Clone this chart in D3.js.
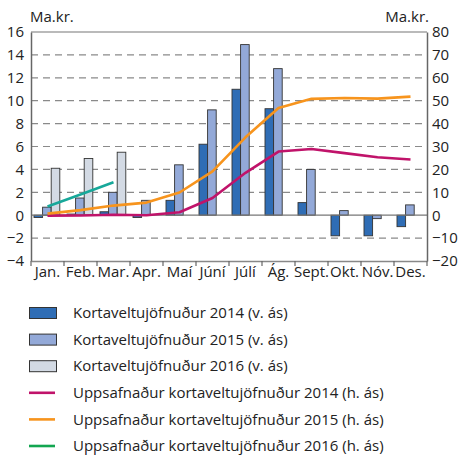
<!DOCTYPE html>
<html><head><meta charset="utf-8">
<script src="https://cdn.jsdelivr.net/npm/d3@7"></script>
<style>body{margin:0;background:#fff}svg{display:block}text{font-family:"Open Sans",sans-serif;fill:#222}</style>
</head><body><svg id="c" width="458" height="455"></svg>
<script>
const months = ["Jan.","Feb.","Mar.","Apr.","Maí","Júní","Júlí","Ág.","Sept.","Okt.","Nóv.","Des."];
const bars2014 = [-0.2,0.1,0.3,-0.2,1.3,6.2,11.0,9.3,1.1,-1.8,-1.8,-1.0];
const bars2015 = [0.7,1.5,2.0,1.3,4.4,9.2,14.9,12.8,4.0,0.4,-0.3,0.9];
const bars2016 = [4.1,4.95,5.5];
const cum2014 = [-0.2,-0.1,0.2,0.0,1.3,7.5,18.5,27.8,28.9,27.1,25.3,24.3];
const cum2015 = [0.7,2.2,4.2,5.5,9.9,19.1,34.0,46.8,50.8,51.2,50.9,51.8];
const cum2016 = [3.8,9.0,14.4];
const leftTicks = [-4,-2,0,2,4,6,8,10,12,14,16];
const rightTicks = [-20,-10,0,10,20,30,40,50,60,70,80];
const legendLabels = ["Kortaveltujöfnuður 2014 (v. ás)","Kortaveltujöfnuður 2015 (v. ás)","Kortaveltujöfnuður 2016 (v. ás)","Uppsafnaður kortaveltujöfnuður 2014 (h. ás)","Uppsafnaður kortaveltujöfnuður 2015 (h. ás)","Uppsafnaður kortaveltujöfnuður 2016 (h. ás)"];

const svg = d3.select("#c");
const L=31, R=427, T=32, B=261;
const x = d3.scaleBand().domain(months).range([L,R]);
const yL = d3.scaleLinear().domain([-4,16]).range([B,T]);
const yR = d3.scaleLinear().domain([-20,80]).range([B,T]);
const col = {b14:"#2f6db5",b15:"#93a9d8",b16:"#d3dae4",l14:"#c0136a",l15:"#f7941d",l16:"#17a89a",g16:"#12a650"};

// grid
svg.append("g").selectAll("line").data(leftTicks.filter(d=>d!==-4&&d!==16&&d!==0)).join("line")
  .attr("x1",L).attr("x2",R).attr("y1",d=>yL(d)).attr("y2",d=>yL(d))
  .attr("stroke","#8a8a8a").attr("stroke-width",1.2).attr("stroke-dasharray","7,5");
// top border
svg.append("line").attr("x1",L).attr("x2",R).attr("y1",T).attr("y2",T).attr("stroke","#777").attr("stroke-width",1.2);

const bw = 8.6, off = 3;
const sub = [["b14",bars2014,0],["b15",bars2015,1],["b16",bars2016,2]];
sub.forEach(([k,arr,i])=>{
  svg.append("g").selectAll("rect").data(arr).join("rect")
    .attr("x",(d,j)=>x(months[j])+off+i*bw)
    .attr("y",d=>yL(Math.max(0,d)))
    .attr("width",bw)
    .attr("height",d=>Math.abs(yL(d)-yL(0)))
    .attr("fill",col[k]).attr("stroke","#333").attr("stroke-width",0.9);
});
// zero line
svg.append("line").attr("x1",L).attr("x2",R).attr("y1",yL(0)).attr("y2",yL(0)).attr("stroke","#777").attr("stroke-width",1.3);

const line = d3.line().x((d,j)=>x(months[j])+x.bandwidth()/2).y(d=>yR(d));
[[cum2014,col.l14],[cum2015,col.l15],[cum2016,col.l16]].forEach(([arr,c])=>{
  svg.append("path").datum(arr).attr("d",line).attr("fill","none").attr("stroke",c).attr("stroke-width",2.6).attr("stroke-linejoin","round");
});

// axes
const ax = svg.append("g").attr("transform",`translate(${L},0)`).call(d3.axisLeft(yL).tickValues(leftTicks).tickSize(0).tickPadding(7));
const ar = svg.append("g").attr("transform",`translate(${R},0)`).call(d3.axisRight(yR).tickValues(rightTicks).tickSize(0).tickPadding(5));
const ab = svg.append("g").attr("transform",`translate(0,${B})`).call(d3.axisBottom(x).tickSize(0).tickPadding(5));
[ax,ar,ab].forEach(g=>{g.select(".domain").attr("stroke","#666").attr("stroke-width",1.5);g.selectAll("text").attr("font-size",15).attr("fill","#222").attr("font-family","Open Sans, sans-serif");});
ab.select(".domain").attr("stroke","#888");
ab.selectAll("text").attr("dy","0.75em");
// bottom ticks at band boundaries
svg.append("g").selectAll("line").data(months.slice(1).concat(["end"])).join("line")
  .attr("x1",d=>d==="end"?R:x(d)).attr("x2",d=>d==="end"?R:x(d)).attr("y1",B).attr("y2",B+5)
  .attr("stroke","#666").attr("stroke-width",1.2);
svg.append("line").attr("x1",L).attr("x2",L).attr("y1",B).attr("y2",B+5).attr("stroke","#666").attr("stroke-width",1.2);

svg.append("text").attr("x",30).attr("y",22).attr("font-size",15).text("Ma.kr.");
svg.append("text").attr("x",429).attr("y",22).attr("font-size",15).attr("text-anchor","end").text("Ma.kr.");

// legend
const lg = svg.append("g");
legendLabels.forEach((t,i)=>{
  const cy = 313 + i*26.6;
  if(i<3){
    lg.append("rect").attr("x",29.5).attr("y",cy-5.5).attr("width",27).attr("height",11)
      .attr("fill",[col.b14,col.b15,col.b16][i]).attr("stroke","#333").attr("stroke-width",1);
  } else {
    lg.append("line").attr("x1",29).attr("x2",55).attr("y1",cy).attr("y2",cy)
      .attr("stroke",[col.l14,col.l15,col.g16][i-3]).attr("stroke-width",2.6);
  }
  lg.append("text").attr("x",73).attr("y",cy).attr("dy","0.35em").attr("font-size",15).text(t);
});
</script></body></html>
